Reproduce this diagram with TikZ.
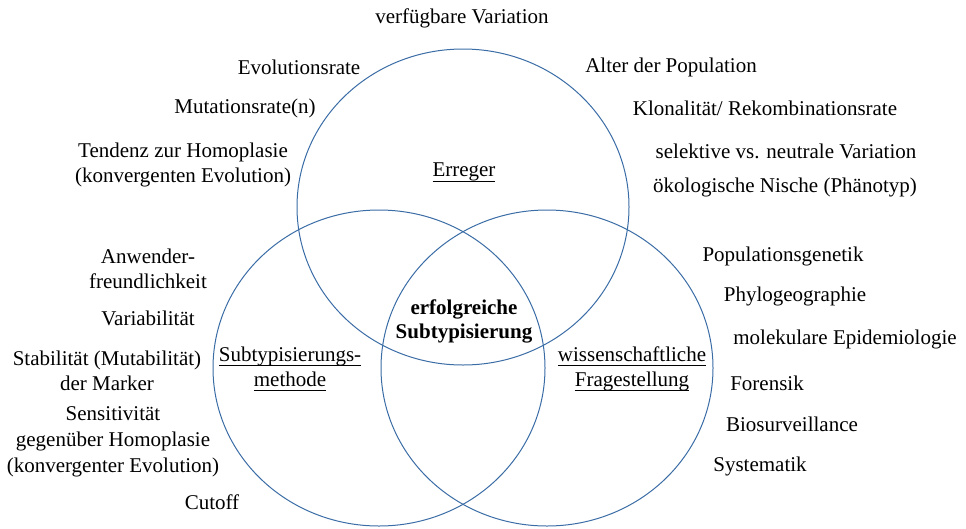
\documentclass[tikz,border=0pt]{standalone}
\usepackage{fontspec}
\setmainfont{Liberation Serif}
\definecolor{kreisblau}{RGB}{58,108,165}
\newcommand{\unterstr}[1]{\underline{\smash{#1}\rule[-3pt]{0pt}{1pt}}}

\begin{document}
\begin{tikzpicture}[
  x=1pt, y=-1pt,
  every node/.style={font=\fontsize{21}{25}\selectfont, inner sep=0pt},
  kreis/.style={draw=kreisblau, line width=1pt},
  merkmal/.style={align=center},
  bereich/.style={align=center},
  kern/.style={align=center, font=\fontsize{21}{24}\selectfont\bfseries}
]
\useasboundingbox (0,0) rectangle (966,528);

% Kreise
\draw[kreis] (463,207) ellipse [x radius=166, y radius=158];
\draw[kreis] (379,368) ellipse [x radius=166, y radius=158];
\draw[kreis] (547,368) ellipse [x radius=166, y radius=158];

% Bereiche
\node[bereich] (erreger) at (464,179) {\unterstr{Erreger}};
\node[bereich] (methode) at (290,376) {\unterstr{Subtypisierungs-}\\\unterstr{methode}};
\node[bereich] (frage) at (632,376) {\unterstr{wissenschaftliche}\\\unterstr{Fragestellung}};
\node[kern] (erfolg) at (464,321) {erfolgreiche\\Subtypisierung};

% Erreger
\node[merkmal] (variation) at (462,18) {verfügbare Variation};
\node[merkmal] (evorate) at (299,67) {Evolutionsrate};
\node[merkmal] (mutrate) at (245,108) {Mutationsrate(n)};
\node[merkmal] (homoplasie) at (183,165) {Tendenz zur Homoplasie\\(konvergenten Evolution)};
\node[merkmal] (alter) at (671,67) {Alter der Population};
\node[merkmal] (klonal) at (765,108) {Klonalität/ Rekombinationsrate};
\node[merkmal] (selektiv) at (786,151) {selektive vs. neutrale Variation};
\node[merkmal] (nische) at (785,187) {ökologische Nische (Phänotyp)};

% Subtypisierungsmethode
\node[merkmal] (anwender) at (148,269) {Anwender-\\freundlichkeit};
\node[merkmal] (variab) at (148,318) {Variabilität};
\node[merkmal] (stabil) at (107,371) {Stabilität (Mutabilität)\\der Marker};
\node[merkmal, font=\fontsize{21}{26}\selectfont] (sensitiv) at (113,442) {Sensitivität\\gegenüber Homoplasie\\(konvergenter Evolution)};
\node[merkmal] (cutoff) at (212,502) {Cutoff};

% wissenschaftliche Fragestellung
\node[merkmal] (popgen) at (783,256) {Populationsgenetik};
\node[merkmal] (phylo) at (795,296) {Phylogeographie};
\node[merkmal] (epi) at (845,339) {molekulare Epidemiologie};
\node[merkmal] (forensik) at (767,383) {Forensik};
\node[merkmal] (biosurv) at (792,424) {Biosurveillance};
\node[merkmal] (systematik) at (760,466) {Systematik};

\end{tikzpicture}
\end{document}
